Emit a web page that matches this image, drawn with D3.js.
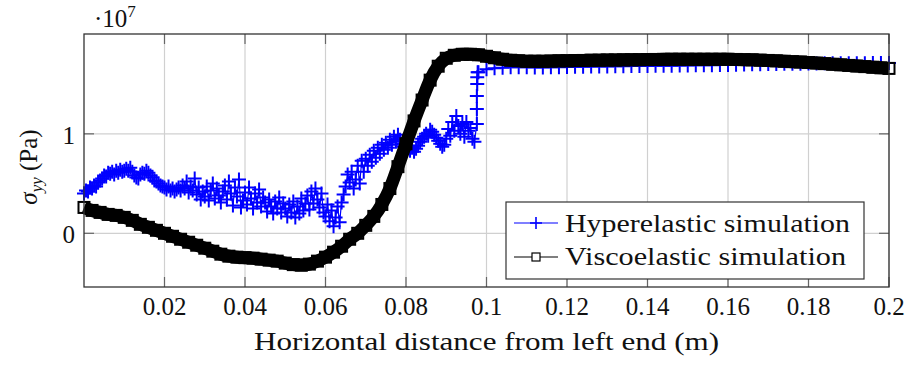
<!DOCTYPE html>
<html>
<head>
<meta charset="utf-8">
<script src="https://cdn.jsdelivr.net/npm/d3@7"></script>
<style>
  body { margin: 0; background: #fff; }
  svg { display: block; }
</style>
</head>
<body>
<div id="chart"></div>
<script>
// x ticks (m) and y ticks (x 1e7 Pa)
const xTicks = [0.02, 0.04, 0.06, 0.08, 0.1, 0.12, 0.14, 0.16, 0.18, 0.2];
const yTicks = [0, 1];

// Hyperelastic: noisy part, sampled every 0.0005 m from x = 0
const hyperStep = 0.0005;
const hyperNoisy = [
  0.40, 0.43, 0.42, 0.46, 0.45, 0.48, 0.47, 0.51, 0.53, 0.55,
  0.58, 0.57, 0.61, 0.60, 0.62, 0.59, 0.63, 0.61, 0.64, 0.62,
  0.63, 0.65, 0.63, 0.66, 0.62, 0.58, 0.56, 0.55, 0.59, 0.61,
  0.60, 0.63, 0.61, 0.58, 0.56, 0.53, 0.52, 0.50, 0.48, 0.47,
  0.46, 0.44, 0.47, 0.43, 0.45, 0.42, 0.44, 0.46, 0.43, 0.48,
  0.45, 0.52, 0.41, 0.47, 0.43, 0.55, 0.39, 0.46, 0.34, 0.42,
  0.37, 0.47, 0.33, 0.43, 0.50, 0.35, 0.45, 0.38, 0.31, 0.42,
  0.48, 0.34, 0.52, 0.40, 0.28, 0.46, 0.37, 0.54, 0.26, 0.33,
  0.41, 0.29, 0.46, 0.35, 0.25, 0.40, 0.31, 0.44, 0.27, 0.36,
  0.31, 0.22, 0.34, 0.27, 0.20, 0.32, 0.25, 0.36, 0.21, 0.30,
  0.25, 0.17, 0.29, 0.21, 0.32, 0.16, 0.27, 0.20, 0.35, 0.23,
  0.30, 0.38, 0.24, 0.42, 0.30, 0.45, 0.34, 0.26, 0.40, 0.21,
  0.17, 0.29, 0.12, 0.23, 0.07, 0.16, 0.27, 0.11, 0.31, 0.39,
  0.47, 0.59, 0.51, 0.62, 0.45, 0.54, 0.68, 0.50, 0.73, 0.62,
  0.75, 0.68, 0.79, 0.72, 0.83, 0.76, 0.86, 0.80, 0.89, 0.84,
  0.91, 0.86, 0.94, 0.89, 0.97, 0.92, 0.99, 0.94, 0.90, 0.87,
  0.85, 0.88, 0.83, 0.86, 0.82, 0.85, 0.88, 0.92, 0.95, 0.97,
  1.00, 0.98, 1.04, 1.02, 0.99, 0.96, 0.93, 0.90, 0.87, 0.89,
  0.95, 1.05, 0.98, 1.12, 1.03, 1.18, 1.08, 1.00, 1.10, 0.97,
  1.12, 1.03, 1.06, 0.95, 0.92
];
// Hyperelastic: jump near x = 0.0976 m
const hyperJumpX = [0.0976, 0.0976, 0.0976, 0.0977, 0.0977, 0.0978];
const hyperJumpY = [1.10, 1.25, 1.38, 1.50, 1.57, 1.62];
// Hyperelastic: plateau, every 0.002 m from x = 0.098
const hyperTailStart = 0.098;
const hyperTailStep = 0.002;
const hyperTail = [
  1.62, 1.65, 1.66, 1.665, 1.67, 1.67, 1.67, 1.668, 1.668, 1.67,
  1.67, 1.672, 1.674, 1.675, 1.676, 1.677, 1.678, 1.679, 1.68, 1.681,
  1.682, 1.683, 1.684, 1.685, 1.686, 1.687, 1.688, 1.689, 1.69, 1.691,
  1.692, 1.693, 1.695, 1.697, 1.699, 1.70, 1.702, 1.703, 1.704, 1.705,
  1.706, 1.707, 1.708, 1.709, 1.71, 1.71, 1.71, 1.711, 1.711, 1.712,
  1.712, 1.712
];

// Viscoelastic, every 0.002 m from x = 0
const viscoStep = 0.002;
const visco = [
  0.26, 0.23, 0.21, 0.19, 0.18, 0.16, 0.13, 0.09, 0.06, 0.03,
  0.00, -0.03, -0.06, -0.09, -0.12, -0.15, -0.18, -0.21, -0.23, -0.24,
  -0.245, -0.25, -0.26, -0.27, -0.28, -0.30, -0.315, -0.32, -0.31, -0.28,
  -0.24, -0.19, -0.13, -0.06, 0.00, 0.08, 0.17, 0.29, 0.45, 0.67,
  0.90, 1.13, 1.34, 1.54, 1.68, 1.76, 1.79, 1.80, 1.80, 1.795,
  1.78, 1.765, 1.75, 1.74, 1.735, 1.73, 1.73, 1.73, 1.732, 1.734,
  1.735, 1.737, 1.738, 1.74, 1.741, 1.742, 1.743, 1.744, 1.745, 1.746,
  1.747, 1.748, 1.749, 1.75, 1.75, 1.75, 1.75, 1.75, 1.75, 1.75,
  1.75, 1.748, 1.746, 1.744, 1.741, 1.738, 1.734, 1.73, 1.726, 1.722,
  1.717, 1.712, 1.706, 1.70, 1.694, 1.688, 1.682, 1.676, 1.67, 1.664,
  1.658
];

const width = 920, height = 367;
const margin = { top: 34, right: 31, bottom: 80, left: 84 };
const font = "Liberation Serif";

const hyperData = hyperNoisy.map((v, i) => [i * hyperStep, v])
  .concat(hyperJumpX.map((x, i) => [x, hyperJumpY[i]]))
  .concat(hyperTail.map((v, i) => [hyperTailStart + i * hyperTailStep, v]));
const viscoData = visco.map((v, i) => [i * viscoStep, v]);

const svg = d3.select("#chart").append("svg")
  .attr("width", width)
  .attr("height", height)
  .attr("font-family", font);

const x = d3.scaleLinear().domain([0, 0.2]).range([margin.left, width - margin.right]);
const y = d3.scaleLinear().domain([-0.54, 2.004]).range([height - margin.bottom, margin.top]);

const x0 = x.range()[0], x1 = x.range()[1];
const y0 = y.range()[0], y1 = y.range()[1];

// grid
svg.append("g").selectAll("line").data(xTicks).join("line")
  .attr("x1", d => x(d)).attr("x2", d => x(d))
  .attr("y1", y1).attr("y2", y0)
  .attr("stroke", "#d0d0d0").attr("stroke-width", 1.2);
svg.append("g").selectAll("line").data(yTicks).join("line")
  .attr("x1", x0).attr("x2", x1)
  .attr("y1", d => y(d)).attr("y2", d => y(d))
  .attr("stroke", "#d0d0d0").attr("stroke-width", 1.2);

// ticks (inside, on both sides)
const tl = 10;
const tickG = svg.append("g").attr("stroke", "#666").attr("stroke-width", 1.2);
xTicks.forEach(d => {
  tickG.append("line").attr("x1", x(d)).attr("x2", x(d)).attr("y1", y0).attr("y2", y0 - tl);
  tickG.append("line").attr("x1", x(d)).attr("x2", x(d)).attr("y1", y1).attr("y2", y1 + tl);
});
yTicks.forEach(d => {
  tickG.append("line").attr("x1", x0).attr("x2", x0 + tl).attr("y1", y(d)).attr("y2", y(d));
  tickG.append("line").attr("x1", x1).attr("x2", x1 - tl).attr("y1", y(d)).attr("y2", y(d));
});

// hyperelastic series
svg.append("path")
  .datum(hyperData)
  .attr("fill", "none")
  .attr("stroke", "#0000ff")
  .attr("stroke-width", 1.2)
  .attr("d", d3.line().x(d => x(d[0])).y(d => y(d[1])));

svg.append("g").selectAll("path").data(hyperData).join("path")
  .attr("transform", d => `translate(${x(d[0])},${y(d[1])})`)
  .attr("d", "M-7,0H7M0,-7V7")
  .attr("stroke", "#0000ff")
  .attr("stroke-width", 2)
  .attr("fill", "none");

// viscoelastic series: dense square marks form a thick band
svg.append("path")
  .datum(viscoData)
  .attr("fill", "none")
  .attr("stroke", "#000")
  .attr("stroke-width", 13)
  .attr("stroke-linejoin", "round")
  .attr("d", d3.line().curve(d3.curveMonotoneX).x(d => x(d[0])).y(d => y(d[1])));

svg.append("g").selectAll("rect").data(viscoData).join("rect")
  .attr("x", d => x(d[0]) - 5.5)
  .attr("y", d => y(d[1]) - 5.5)
  .attr("width", 11).attr("height", 11)
  .attr("fill", "none")
  .attr("stroke", "#000")
  .attr("stroke-width", 2);

// frame
svg.append("rect")
  .attr("x", x0).attr("y", y1)
  .attr("width", x1 - x0).attr("height", y0 - y1)
  .attr("fill", "none").attr("stroke", "#333").attr("stroke-width", 1.3);

// tick labels
svg.append("g").selectAll("text").data(xTicks).join("text")
  .attr("x", d => x(d)).attr("y", y0 + 28)
  .attr("text-anchor", "middle")
  .attr("font-size", 25)
  .attr("fill", "#111")
  .text(d => d3.format("~g")(d));
svg.append("g").selectAll("text").data(yTicks).join("text")
  .attr("x", x0 - 9).attr("y", d => y(d) + 10)
  .attr("text-anchor", "end")
  .attr("font-size", 25)
  .attr("fill", "#111")
  .text(d => d);

// exponent
const expo = svg.append("text").attr("x", 94).attr("y", 27).attr("font-size", 25).attr("fill", "#111");
expo.append("tspan").text("·10");
expo.append("tspan").attr("dy", -10).attr("font-size", 17).text("7");

// axis labels
svg.append("text")
  .attr("x", (x0 + x1) / 2).attr("y", 350)
  .attr("text-anchor", "middle")
  .attr("font-size", 25)
  .attr("fill", "#111")
  .attr("textLength", 465)
  .attr("lengthAdjust", "spacingAndGlyphs")
  .text("Horizontal distance from left end (m)");

const yl = svg.append("text")
  .attr("transform", "translate(37,167) rotate(-90)")
  .attr("text-anchor", "middle")
  .attr("font-size", 25)
  .attr("fill", "#111");
yl.append("tspan").attr("font-style", "italic").text("σ");
yl.append("tspan").attr("font-style", "italic").attr("font-size", 17).attr("dy", 5).text("yy");
yl.append("tspan").attr("dy", -5).text(" (Pa)");

// legend
const lg = svg.append("g");
lg.append("rect")
  .attr("x", 506).attr("y", 202).attr("width", 358).attr("height", 77)
  .attr("fill", "#fff").attr("stroke", "#333").attr("stroke-width", 1.2);
const rows = [
  { label: "Hyperelastic simulation", color: "#0000ff", mark: "plus", cy: 223, base: 232, w: 285 },
  { label: "Viscoelastic simulation", color: "#000", mark: "square", cy: 257, base: 265, w: 281 }
];
rows.forEach(r => {
  lg.append("line").attr("x1", 514).attr("x2", 558).attr("y1", r.cy).attr("y2", r.cy)
    .attr("stroke", r.color).attr("stroke-width", 1.2);
  if (r.mark === "plus") {
    lg.append("path").attr("d", `M530,${r.cy}H542M536,${r.cy - 6}V${r.cy + 6}`)
      .attr("stroke", r.color).attr("stroke-width", 1.6);
  } else {
    lg.append("rect").attr("x", 532).attr("y", r.cy - 4).attr("width", 8).attr("height", 8)
      .attr("fill", "#fff").attr("stroke", r.color).attr("stroke-width", 1.2);
  }
  lg.append("text").attr("x", 565).attr("y", r.base)
    .attr("font-size", 25).attr("fill", "#111")
    .attr("textLength", r.w)
    .attr("lengthAdjust", "spacingAndGlyphs").text(r.label);
});
</script>
</body>
</html>
